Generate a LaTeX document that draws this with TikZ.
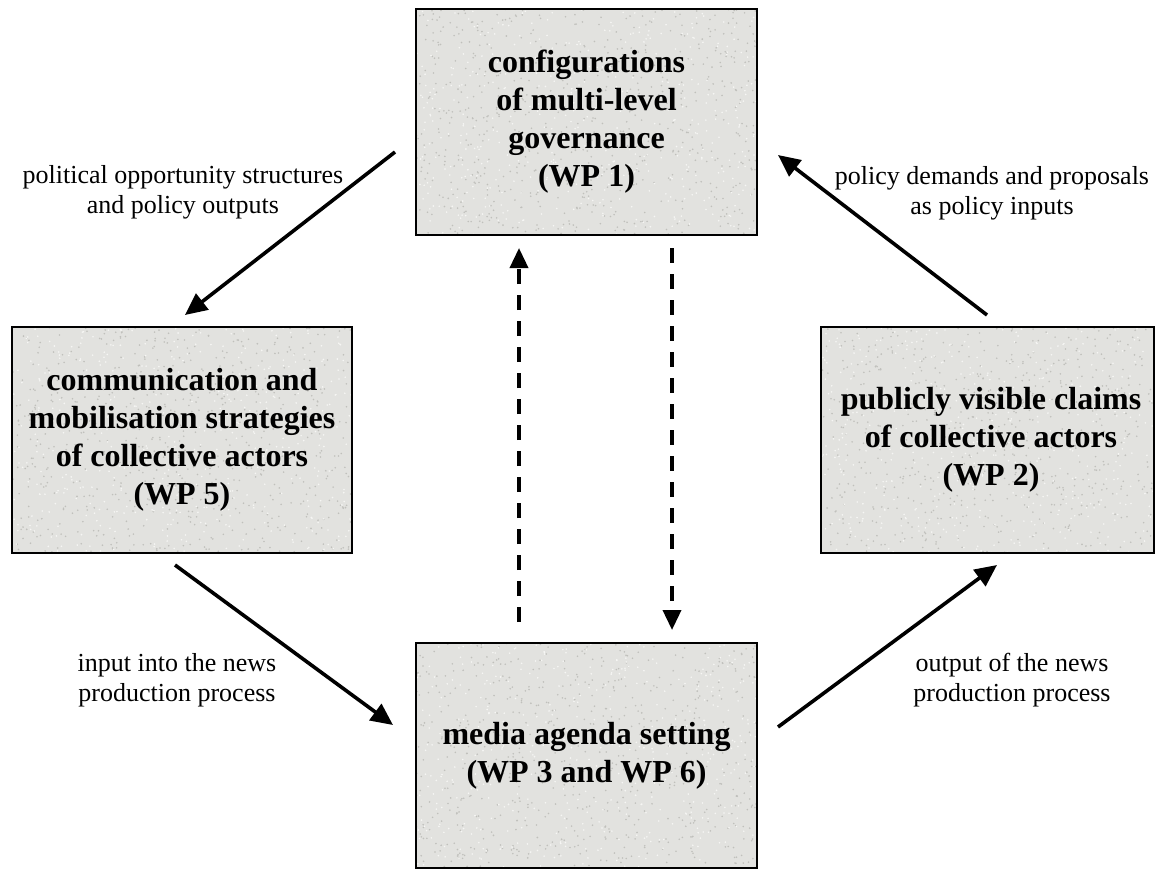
\documentclass[tikz,border=0pt]{standalone}
\usepackage{fontspec}
\setmainfont{Liberation Serif}
\usetikzlibrary{arrows.meta,calc}
\definecolor{boxfill}{RGB}{226,226,223}
\definecolor{speckdark}{RGB}{192,192,188}
\definecolor{specklight}{RGB}{246,246,244}
\tikzset{
  granite/.style={path picture={
    \foreach \i in {1,...,700}{
      \pgfmathsetmacro\px{rnd*350}\pgfmathsetmacro\py{rnd*235}
      \fill[speckdark] (path picture bounding box.north west) ++(\px,\py) circle (0.9pt);
    }
    \foreach \i in {1,...,500}{
      \pgfmathsetmacro\px{rnd*350}\pgfmathsetmacro\py{rnd*235}
      \fill[specklight] (path picture bounding box.north west) ++(\px,\py) circle (0.9pt);
    }
  }},
  wpbox/.style={draw=black, line width=2.4pt, fill=boxfill, granite, minimum height=226pt,
    inner sep=0pt, align=center, font=\fontsize{32}{38}\selectfont\bfseries},
  boxtext/.style={align=center, inner sep=0pt, font=\fontsize{32}{38}\selectfont\bfseries},
  lbl/.style={align=center, inner sep=0pt, font=\fontsize{26}{30}\selectfont},
  arr/.style={line width=3.6pt, -{Triangle[length=22pt,width=20pt]}},
  darr/.style={line width=3.6pt, dash pattern=on 15pt off 11pt, -{Triangle[length=20pt,width=18pt]}},
}
\begin{document}
\begin{tikzpicture}[x=1pt,y=-1pt]
\pgfmathsetseed{4242}
\useasboundingbox (0,0) rectangle (1155,868);
% boxes
\node[wpbox, minimum width=341pt] (top) at (586.5,122)
  {configurations\\of multi-level\\governance\\(WP 1)};
\node[wpbox, minimum width=340pt] (left) at (182,440)
  {communication and\\mobilisation strategies\\of collective actors\\(WP 5)};
\node[wpbox, minimum width=333pt] (right) at (987.5,440) {};
\node[boxtext] (righttext) at (991,440)
  {publicly visible claims\\of collective actors\\(WP 2)};
\node[wpbox, minimum width=341pt, minimum height=225pt] (bottom) at (586.5,755.5)
  {media agenda setting\\(WP 3 and WP 6)};
% labels
\node[lbl] (l1) at (183,192) {political opportunity structures\\and policy outputs};
\node[lbl] (l2) at (992,193) {policy demands and proposals\\as policy inputs};
\node[lbl] (l3) at (177,680) {input into the news\\production process};
\node[lbl] (l4) at (1012,680) {output of the news\\production process};
% connector end points
\coordinate (a1s) at (395,152);  \coordinate (a1e) at (185,315);
\coordinate (a2s) at (987,315);  \coordinate (a2e) at (778,155);
\coordinate (a3s) at (175,565);  \coordinate (a3e) at (393,725);
\coordinate (a4s) at (778,727);  \coordinate (a4e) at (997,565);
\coordinate (d1s) at (519,622);  \coordinate (d1e) at (519,248);
\coordinate (d2s) at (672,248);  \coordinate (d2e) at (672,630);
\draw[arr] (a1s) -- (a1e);
\draw[arr] (a2s) -- (a2e);
\draw[arr] (a3s) -- (a3e);
\draw[arr] (a4s) -- (a4e);
\draw[darr] (d1s) -- (d1e);
\draw[darr] (d2s) -- (d2e);
\end{tikzpicture}
\end{document}
